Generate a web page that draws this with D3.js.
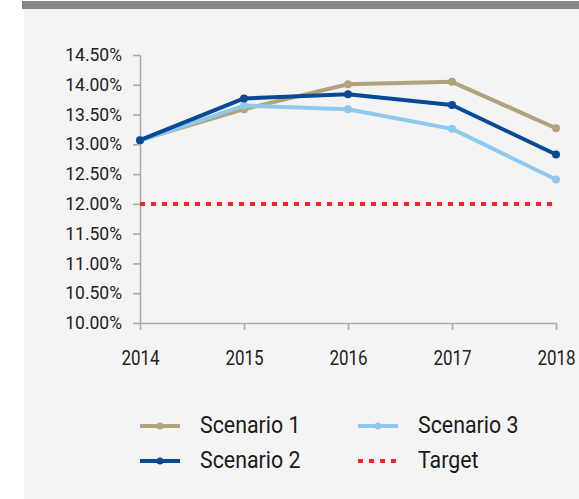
<!DOCTYPE html>
<html>
<head>
<meta charset="utf-8">
<script src="https://cdn.jsdelivr.net/npm/d3@7"></script>
<style>
  body { margin: 0; background: #fff; }
  svg { display: block; }
  .tick text { font-family: Roboto, "Liberation Sans Narrow", sans-serif; fill: #222; }
</style>
</head>
<body>
<svg id="svg1" width="579" height="499"></svg>
<script>
// chart data
var years = ['2014', '2015', '2016', '2017', '2018'];
var scenario1 = [0.1307, 0.1359, 0.1401, 0.1405, 0.1327];
var scenario2 = [0.1307, 0.1377, 0.1384, 0.1366, 0.1283];
var scenario3 = [0.1306, 0.1365, 0.1359, 0.1326, 0.1241];
var target = [0.12, 0.12, 0.12, 0.12, 0.12];
var yTicks = [0.10, 0.105, 0.11, 0.115, 0.12, 0.125, 0.13, 0.135, 0.14, 0.145];
var seriesNames = ['Scenario 1', 'Scenario 2', 'Scenario 3', 'Target'];

var colors = {
    'Scenario 1': '#b1a37c',
    'Scenario 2': '#084a95',
    'Scenario 3': '#8fc8ee',
    'Target': '#f52226'
};

var svg = d3.select('svg');

// panel background + top bar
svg.append('rect')
    .attr('x', 24).attr('y', 9)
    .attr('width', 555).attr('height', 490)
    .attr('fill', '#f4f4f4');
svg.append('rect')
    .attr('x', 22).attr('y', 1)
    .attr('width', 557).attr('height', 8)
    .attr('fill', '#85868c');

var x = d3.scalePoint()
    .domain(years)
    .range([140, 556]);

var y = d3.scaleLinear()
    .domain([0.10, 0.145])
    .range([323, 55]);

// axes
var yAxis = svg.append('g')
    .attr('transform', 'translate(140,0)')
    .call(d3.axisLeft(y).tickValues(yTicks).tickSize(7).tickSizeOuter(0).tickPadding(11)
        .tickFormat(d3.format('.2%')));

var xAxis = svg.append('g')
    .attr('transform', 'translate(0,323)')
    .call(d3.axisBottom(x).tickSize(7).tickSizeOuter(0).tickPadding(20));

yAxis.selectAll('text').style('font-size', '17.5px');
xAxis.selectAll('text')
    .style('font-size', '21px')
    .attr('transform', 'scale(0.81,1)');   // condensed look
svg.selectAll('.domain, .tick line')
    .attr('stroke', '#ababab')
    .attr('stroke-width', 1.6);

var line = d3.line()
    .x(function(d, i) { return x(years[i]); })
    .y(function(d) { return y(d); });

// target line
svg.append('path')
    .datum(target)
    .attr('d', line)
    .attr('fill', 'none')
    .attr('stroke', colors['Target'])
    .attr('stroke-width', 4)
    .attr('stroke-dasharray', '5,6');

var series = [
    { name: 'Scenario 1', values: scenario1 },
    { name: 'Scenario 3', values: scenario3 },
    { name: 'Scenario 2', values: scenario2 }
];

series.forEach(function(s) {
    svg.append('path')
        .datum(s.values)
        .attr('d', line)
        .attr('fill', 'none')
        .attr('stroke', colors[s.name])
        .attr('stroke-width', 4)
        .attr('stroke-linejoin', 'round');

    svg.selectAll(null)
        .data(s.values)
        .enter()
        .append('circle')
        .attr('cx', function(d, i) { return x(years[i]); })
        .attr('cy', function(d) { return y(d); })
        .attr('r', 4)
        .attr('fill', colors[s.name]);
});

// legend
var legendPos = [[140, 426], [140, 461], [358, 426], [358, 461]];

var legend = svg.selectAll('.legend')
    .data(seriesNames)
    .enter()
    .append('g')
    .attr('class', 'legend')
    .attr('transform', function(d, i) { return 'translate(' + legendPos[i][0] + ',' + legendPos[i][1] + ')'; });

legend.append('line')
    .attr('x1', 0).attr('x2', 40)
    .attr('y1', 0).attr('y2', 0)
    .attr('stroke', function(d) { return colors[d]; })
    .attr('stroke-width', 4)
    .attr('stroke-dasharray', function(d) { return d == 'Target' ? '5,6' : null; });

legend.filter(function(d) { return d != 'Target'; })
    .append('circle')
    .attr('cx', 20).attr('cy', 0)
    .attr('r', 3.5)
    .attr('fill', function(d) { return colors[d]; });

legend.append('text')
    .attr('transform', 'translate(60,7) scale(0.89,1)')
    .style('font-family', 'Roboto, "Liberation Sans Narrow", sans-serif')
    .style('font-size', '24px')
    .attr('fill', '#1a1a1a')
    .text(function(d) { return d; });
</script>
</body>
</html>
